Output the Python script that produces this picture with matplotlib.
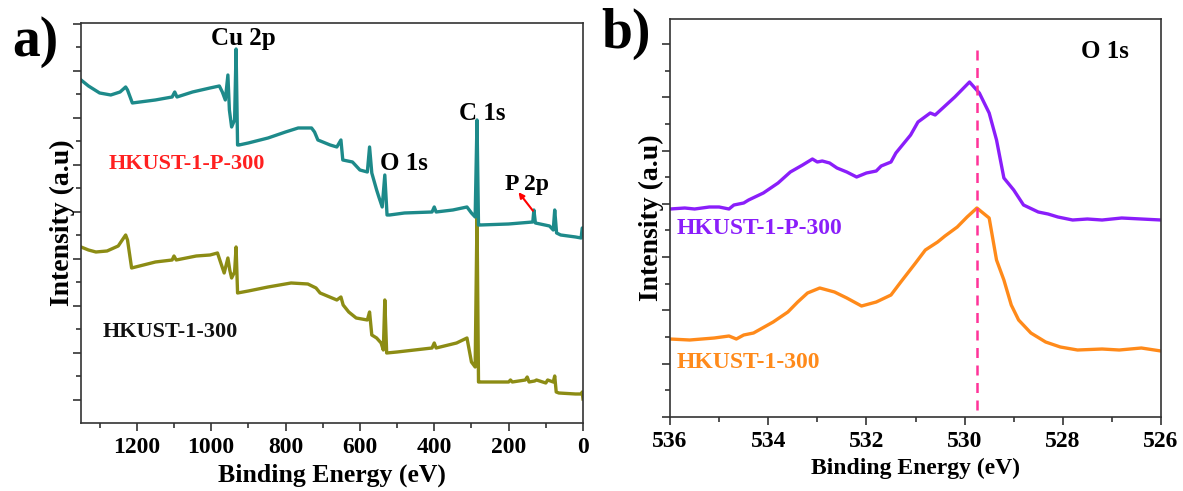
import matplotlib
matplotlib.use('Agg')
import matplotlib.pyplot as plt
from matplotlib.ticker import MultipleLocator, NullFormatter

plt.rcParams['font.family'] = 'Liberation Serif'
plt.rcParams['font.weight'] = 'bold'

# ---- panel a: XPS survey (binding energy in eV, intensity in a.u.)
survey_p_energy = [1350, 1330, 1300, 1270, 1245, 1230, 1225, 1212, 1150, 1105, 1098, 1092,
                   1050, 1003, 978, 970, 962, 955, 951, 945, 937, 933, 929, 925, 900, 847,
                   800, 766, 730, 722, 713, 680, 662, 651, 646, 620, 600, 580, 574, 568,
                   555, 549, 540, 533, 527, 520, 480, 406, 400, 395, 350, 312, 300, 290,
                   285, 281, 276, 200, 135, 132, 128, 90, 80, 76, 71, 60, 20, 5, 2, 0]
survey_p_int = [320, 314, 307, 305, 308, 313, 310, 297, 300, 303, 308, 303,
                308, 312, 314, 308, 300, 325, 290, 273, 280, 351, 255, 255, 257, 262,
                268, 272, 272, 268, 260, 255, 253, 260, 240, 238, 230, 228, 253, 227,
                210, 203, 193, 225, 185, 185, 187, 188, 193, 188, 190, 193, 187, 183,
                280, 175, 175, 176, 178, 190, 177, 174, 170, 190, 167, 165, 163, 162, 172, 172]

survey_energy = [1350, 1330, 1310, 1280, 1250, 1230, 1225, 1214, 1150, 1105, 1100, 1094,
                 1040, 1003, 983, 975, 965, 955, 950, 945, 937, 933, 929, 900, 847, 785,
                 740, 718, 707, 662, 651, 645, 630, 610, 580, 574, 568, 555, 543, 537,
                 533, 528, 500, 406, 400, 395, 340, 312, 300, 290, 285, 281, 276, 200,
                 195, 190, 155, 150, 145, 130, 125, 100, 95, 80, 76, 72, 65, 20, 5, 2, 0]
survey_int = [153, 150, 148, 149, 154, 165, 160, 132, 138, 140, 144, 140,
              144, 145, 147, 138, 127, 142, 130, 122, 128, 153, 107, 109, 113, 117,
              116, 112, 107, 100, 103, 95, 88, 82, 80, 88, 65, 62, 57, 50,
              100, 47, 48, 52, 57, 52, 57, 62, 38, 33, 185, 18, 18, 18,
              20, 18, 20, 23, 18, 19, 20, 17, 20, 18, 24, 8, 7, 6, 6, 8, 1]

# ---- panel b: O 1s high resolution
o1s_p_energy = [536.0, 535.7, 535.5, 535.2, 535.0, 534.8, 534.7, 534.5, 534.4, 534.1, 533.8,
                533.55, 533.3, 533.1, 533.0, 532.9, 532.75, 532.6, 532.4, 532.2, 532.0,
                531.8, 531.7, 531.5, 531.4, 531.1, 530.95, 530.7, 530.6, 530.4, 530.2, 529.9,
                529.7, 529.5, 529.35, 529.2, 529.0, 528.8, 528.5, 528.3, 528.1, 527.8, 527.5,
                527.2, 526.8, 526.4, 526.0]
o1s_p_int = [208, 209, 208, 210, 210, 208, 212, 214, 217, 224, 234,
             245, 252, 258, 255, 256, 254, 249, 245, 240, 244,
             246, 251, 255, 264, 282, 295, 304, 302, 311, 320, 335,
             324, 304, 277, 239, 227, 212, 205, 203, 200, 197, 198,
             197, 199, 198, 197]

o1s_energy = [536.0, 535.6, 535.1, 534.8, 534.65, 534.5, 534.3, 533.9, 533.6, 533.4, 533.2,
              532.95, 532.8, 532.65, 532.4, 532.1, 531.8, 531.5, 531.3, 531.0, 530.8, 530.55,
              530.4, 530.15, 529.95, 529.75, 529.5, 529.35, 529.2, 529.05, 528.9, 528.65,
              528.35, 528.05, 527.7, 527.2, 526.85, 526.4, 526.0]
o1s_int = [78, 77, 79, 81, 78, 82, 84, 95, 105, 115, 124,
           129, 127, 125, 119, 111, 115, 122, 135, 154, 167, 175,
           181, 190, 200, 209, 199, 157, 137, 112, 97, 84,
           75, 70, 67, 68, 67, 69, 66]

o1s_ref = 529.75

fig = plt.figure(figsize=(11.83, 4.91), dpi=100)
ax1 = fig.add_axes([0.0685, 0.1385, 0.4243, 0.8147])
ax2 = fig.add_axes([0.5664, 0.1507, 0.4150, 0.8106])

ax1.plot(survey_energy, survey_int, color='#8c8c14', lw=2.4)
ax1.plot(survey_p_energy, survey_p_int, color='#1d8a8a', lw=2.4)
ax1.set_xlim(1350, 0)
ax1.set_ylim(-23, 377)
ax1.xaxis.set_major_locator(MultipleLocator(200))
ax1.xaxis.set_minor_locator(MultipleLocator(100))
ax1.yaxis.set_major_locator(MultipleLocator(47))
ax1.yaxis.set_minor_locator(MultipleLocator(23.5))
ax1.yaxis.set_major_formatter(NullFormatter())
ax1.set_xlabel('Binding Energy (eV)', fontsize=18.5, fontweight='bold', labelpad=4)
ax1.set_ylabel('Intensity (a.u)', fontsize=20, fontweight='bold', labelpad=-5)

ax1.text(914, 361, 'Cu 2p', fontsize=18, ha='center', va='center')
ax1.text(271, 286, 'C 1s', fontsize=18, ha='center', va='center')
ax1.text(481, 236, 'O 1s', fontsize=18, ha='center', va='center')
ax1.text(150, 215, 'P 2p', fontsize=17, ha='center', va='center')
ax1.annotate('', xy=(178, 210), xytext=(130, 187),
             arrowprops=dict(arrowstyle='-|>', color='red', lw=1.5, mutation_scale=8))
ax1.text(1275, 236, 'HKUST-1-P-300', fontsize=16, color='#ff2020', ha='left', va='center')
ax1.text(1291, 68, 'HKUST-1-300', fontsize=16, color='#111111', ha='left', va='center')

ax2.plot(o1s_p_energy, o1s_p_int, color='#8a1efa', lw=2.4)
ax2.plot(o1s_energy, o1s_int, color='#ff8a1a', lw=2.4)
ax2.plot([o1s_ref, o1s_ref], [7, 370], color='#ff3399', lw=1.8, ls=(0, (4, 3)))
ax2.set_xlim(536, 526)
ax2.set_ylim(0, 398)
ax2.xaxis.set_major_locator(MultipleLocator(2))
ax2.xaxis.set_minor_locator(MultipleLocator(1))
ax2.yaxis.set_major_locator(MultipleLocator(53.3))
ax2.yaxis.set_minor_locator(MultipleLocator(26.65))
ax2.yaxis.set_major_formatter(NullFormatter())
ax2.set_xlabel('Binding Energy (eV)', fontsize=17, fontweight='bold', labelpad=4)
ax2.set_ylabel('Intensity (a.u)', fontsize=20, fontweight='bold', labelpad=-5)
ax2.text(527.14, 366, 'O 1s', fontsize=18, ha='center', va='center')
ax2.text(535.86, 189, 'HKUST-1-P-300', fontsize=17, color='#8a1efa', ha='left', va='center')
ax2.text(535.86, 55, 'HKUST-1-300', fontsize=17, color='#ff8a1a', ha='left', va='center')

for ax in (ax1, ax2):
    for s in ax.spines.values():
        s.set_linewidth(1.2)
        s.set_color('#333333')
    ax.tick_params(which='both', direction='out', top=False, right=False, width=1.2, color='#333333')
    ax.tick_params(which='major', length=6)
    ax.tick_params(which='minor', length=3.5)
    ax.tick_params(axis='x', labelsize=17, pad=4)
    plt.setp(ax.get_xticklabels(which='both'), fontweight='bold')

fig.text(0.030, 0.915, 'a)', fontsize=40, fontweight='bold', ha='center', va='center')
fig.text(0.529, 0.930, 'b)', fontsize=40, fontweight='bold', ha='center', va='center')

fig.savefig('out.png', dpi=100)
